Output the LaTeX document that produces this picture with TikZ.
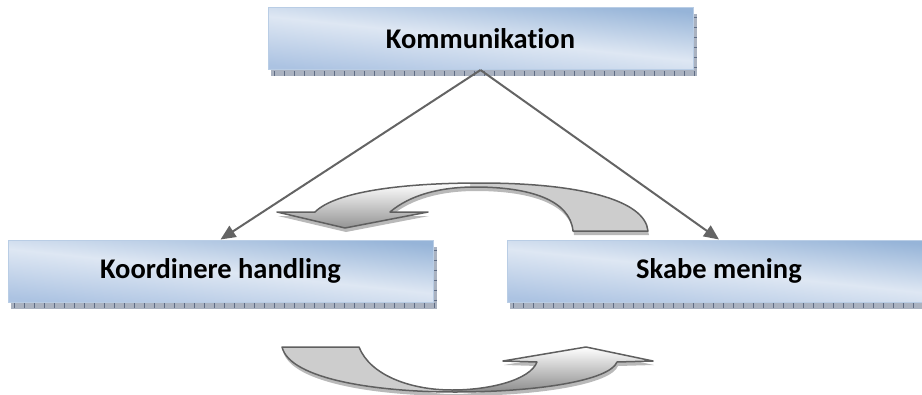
\documentclass[tikz,border=0pt]{standalone}
\usepackage{fontspec}
\setmainfont{Carlito}[Ligatures=NoCommon]
\usetikzlibrary{calc,arrows.meta,backgrounds}

\definecolor{boxdark}{RGB}{150,180,216}
\definecolor{boxlight}{RGB}{222,231,243}
\definecolor{boxlow}{RGB}{172,195,226}
\definecolor{boxedge}{RGB}{185,205,229}
\definecolor{shadowbase}{RGB}{170,178,192}
\definecolor{shadowtick}{RGB}{95,108,132}
\definecolor{linkgray}{RGB}{100,100,100}
\definecolor{bandline}{RGB}{95,95,95}
\definecolor{bandback}{RGB}{205,205,205}
\definecolor{bandshadow}{RGB}{185,185,185}

% closed outlines of the two curved ribbon arrows
\def\upperband{(648,231) .. controls (645,200) and (580,183) .. (480,183)
  .. controls (400,183) and (335,192) .. (315,212) -- (277,212) -- (345,228)
  -- (428,212) -- (390,212) .. controls (410,195) and (440,187) .. (475,187)
  .. controls (530,187) and (570,200) .. (573,231) -- cycle}
\def\lowerband{(282,347) .. controls (290,380) and (380,392) .. (455,392)
  .. controls (540,392) and (610,380) .. (617,362) -- (653,361) -- (586,347)
  -- (503,361) -- (537,362) .. controls (530,380) and (490,390) .. (452,390)
  .. controls (410,390) and (370,375) .. (359,347) -- cycle}

\tikzset{
  labelbox/.style={rectangle, minimum width=425pt, minimum height=62pt,
    inner sep=0pt, font=\bfseries\fontsize{28.5}{32}\selectfont,
    top color=boxdark, bottom color=boxlow, middle color=boxlight,
    shading angle=-6, draw=boxedge, line width=1pt},
  link/.style={draw=linkgray, line width=2pt,
    -{Triangle[length=15pt,width=13pt,fill=linkgray]}},
  bandedge/.style={draw=bandline, line width=1.5pt, line join=round},
  frontshade/.style={top color=white, bottom color=black!45},
}

\begin{document}
\begin{tikzpicture}[x=1pt, y=-1pt]
  \useasboundingbox (0,0) rectangle (922,394);

  % boxes
  \node[labelbox] (top) at (480.5,38.5) {Kommunikation};
  \node[labelbox] (left) at (220.5,271) {Koordinere handling};
  \node[labelbox, minimum width=424pt] (right) at (719,271) {Skabe mening};

  % dotted drop shadows under the boxes
  \begin{scope}[on background layer]
    \foreach \b in {top,left,right}{
      \fill[shadowbase] ($(\b.south west)+(3,-1)$) rectangle ($(\b.south east)+(3,6)$);
      \fill[shadowbase] ($(\b.north east)+(-1,7)$) rectangle ($(\b.south east)+(3,6)$);
      \draw[shadowtick, line width=5pt, dash pattern=on 1pt off 9pt]
        ($(\b.south west)+(6,3)$) -- ($(\b.south east)+(3,3)$);
      \draw[shadowtick, line width=3pt, dash pattern=on 1pt off 9pt]
        ($(\b.north east)+(1.5,10)$) -- ($(\b.south east)+(1.5,0)$);
    }
  \end{scope}

  % connectors from the top box down to the two lower boxes
  \draw[link] (top.south) -- (left.north);
  \draw[link] (top.south) -- (right.north);

  % upper ribbon arrow, pointing down to the left
  \fill[bandshadow, shift={(1,4)}] \upperband;
  \fill[bandback] \upperband;
  \begin{scope}
    \clip (250,170) rectangle (470,240);
    \shade[frontshade] \upperband;
  \end{scope}
  \draw[bandedge] \upperband;

  % lower ribbon arrow, pointing up to the right
  \fill[bandshadow, shift={(1,4)}] \lowerband;
  \fill[bandback] \lowerband;
  \begin{scope}
    \clip (452,335) rectangle (670,400);
    \shade[frontshade] \lowerband;
  \end{scope}
  \draw[bandedge] \lowerband;
\end{tikzpicture}
\end{document}
